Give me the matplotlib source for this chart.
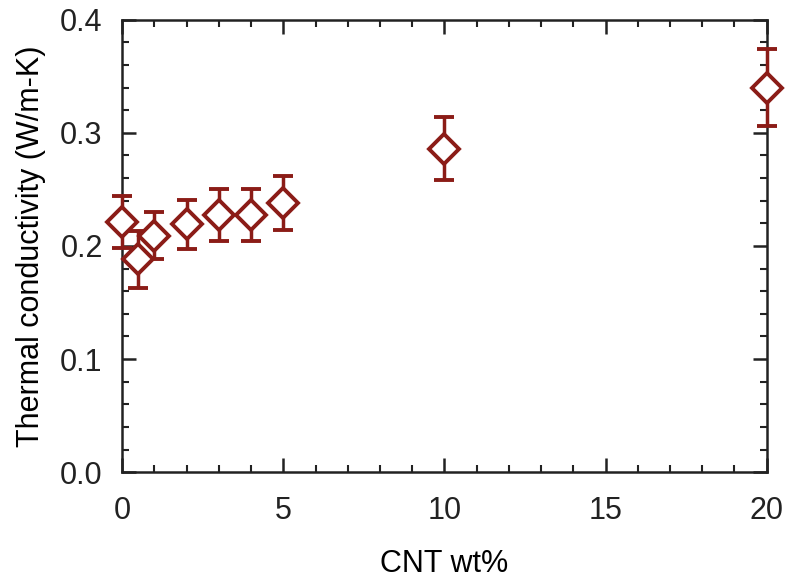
import matplotlib
import matplotlib.pyplot as plt
from matplotlib.ticker import MultipleLocator, FormatStrFormatter

matplotlib.rcParams["font.family"] = ["Liberation Sans", "DejaVu Sans"]

# data
cnt_wt = [0, 0.5, 1, 2, 3, 4, 5, 10, 20]
conductivity = [0.221, 0.188, 0.209, 0.219, 0.227, 0.227, 0.238, 0.286, 0.340]
err = [0.023, 0.025, 0.021, 0.022, 0.023, 0.023, 0.024, 0.028, 0.034]

COLOR = "#8b1c17"

fig = plt.figure(figsize=(7.88, 5.80), dpi=100)
ax = fig.add_axes([0.155, 0.186, 0.818, 0.780])

ax.errorbar(cnt_wt, conductivity, yerr=err, fmt="D", color=COLOR, mfc="white",
            mec=COLOR, mew=2.8, ms=15, elinewidth=2.5, capsize=7, capthick=2.5,
            clip_on=False, zorder=3)

ax.set_xlim(0, 20)
ax.set_ylim(0, 0.4)
ax.xaxis.set_major_locator(MultipleLocator(5))
ax.xaxis.set_minor_locator(MultipleLocator(1))
ax.yaxis.set_major_locator(MultipleLocator(0.1))
ax.yaxis.set_minor_locator(MultipleLocator(0.02))
ax.yaxis.set_major_formatter(FormatStrFormatter("%.1f"))

for s in ax.spines.values():
    s.set_linewidth(1.8)
    s.set_color("#222222")
ax.tick_params(which="both", direction="in", top=True, right=True, colors="#222222",
               labelsize=22)
ax.tick_params(axis="x", pad=17)
ax.tick_params(axis="y", pad=14)
ax.tick_params(which="major", length=10, width=1.8)
ax.tick_params(which="minor", length=5, width=1.5)

ax.set_xlabel("CNT wt%", fontsize=22, labelpad=17)
ax.set_ylabel("Thermal conductivity (W/m-K)", fontsize=22, labelpad=10)

fig.savefig("out.png", dpi=100)
